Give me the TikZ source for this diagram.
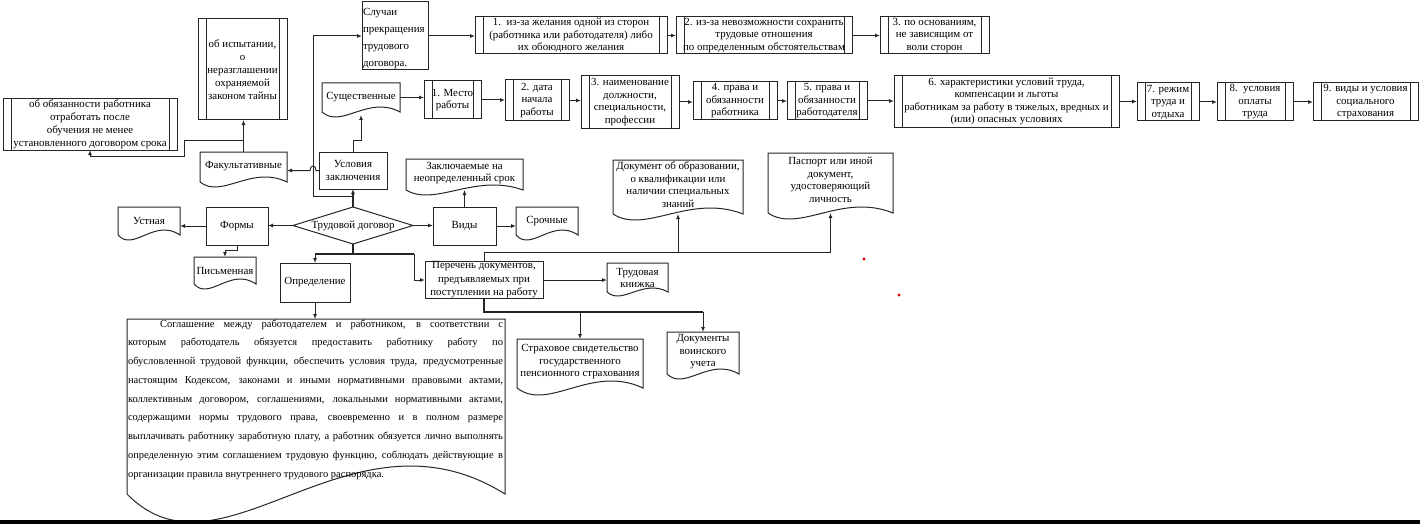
\documentclass[tikz,border=0pt]{standalone}
\usepackage{fontspec}
\setmainfont{Liberation Serif}
\usetikzlibrary{arrows.meta,shapes.geometric}
\newcommand\rbox[7]{\node[#6, minimum width={#4-#2}, minimum height={#5-#3}] (#1) at ({(#2+#4)/2},{(#3+#5)/2}) {#7};}
\newcommand\docn[8]{%
  \node[minimum width={#4-#2}, minimum height={#5-#3}] (#1) at ({(#2+#4)/2},{(#3+#5)/2}) {};
  \draw[shapeline] (#1.north west) -- (#1.north east) -- (#1.south east)
    .. controls ({#2+0.59*(#4-#2)},{#5-3.46*#6}) and ({#2+0.25*(#4-#2)},{#5+3.46*#6}) .. (#1.south west) -- cycle;
  \node (#1-t) at ({(#2+#4)/2},#7) {#8};}
\begin{document}
\begin{tikzpicture}[x=1pt,y=-1pt,
  every node/.style={font=\fontsize{10.9}{12.5}\selectfont, inner sep=0pt, outer sep=0pt, align=center},
  box/.style={draw=black!85, line width=1pt},
  pp/.style={box, path picture={\draw[black!85, line width=1pt]
     ([xshift=8pt]path picture bounding box.north west) -- ([xshift=8pt]path picture bounding box.south west)
     ([xshift=-8pt]path picture bounding box.north east) -- ([xshift=-8pt]path picture bounding box.south east);}},
  shapeline/.style={draw=black!85, line width=1pt},
  ln/.style={draw=black!85, line width=1pt},
  arr/.style={ln, -{Latex[length=5pt,width=4pt]}},
  thk/.style={line width=1.8pt}]
\useasboundingbox (0,0) rectangle (1420,524);

% ---------- upper-left group ----------
\rbox{isp}{198}{19}{287}{120}{pp, font=\fontsize{10.9}{13}\selectfont}{об испытании,\\ о\\ неразглашении\\ охраняемой\\ законом тайны}
\rbox{obyaz}{3}{99}{177}{150}{pp, font=\fontsize{10.9}{13}\selectfont}{об обязанности работника\\ отработать после\\ обучения не менее\\ установленного договором срока}
\docn{fak}{200}{152}{287}{182}{5}{166}{Факультативные}
\rbox{usl}{319}{152}{387}{189}{box}{Условия\\ заключения}
\rbox{sluch}{362}{2}{428}{70}{box, text width=64pt, align=left, font=\fontsize{10.9}{17}\selectfont}{\rule{0pt}{13pt}Случаи\\ прекращения\\ трудового\\ договора.}
\docn{sush}{322}{83}{400}{112}{5}{97}{Существенные}

% ---------- row 1 ----------
\rbox{k1}{475}{17}{667}{54}{pp}{1.\ \ из-за желания одной из сторон\\ (работника или работодателя) либо\\ их обоюдного желания}
\rbox{k2}{676}{17}{852}{54}{pp}{2. из-за невозможности сохранить\\ трудовые отношения\\ по определенным обстоятельствам}
\rbox{k3}{880}{17}{989}{54}{pp}{3. по основаниям,\\ не зависящим от\\ воли сторон}

% ---------- row 2 ----------
\rbox{m1}{424}{81}{481}{119}{pp}{1. Место\\ работы}
\rbox{m2}{505}{80}{569}{121}{pp}{2. дата\\ начала\\ работы}
\rbox{m3}{581}{76}{679}{128}{pp}{3. наименование\\ должности,\\ специальности,\\ профессии}
\rbox{m4}{693}{82}{777}{120}{pp}{4. права и\\ обязанности\\ работника}
\rbox{m5}{787}{82}{867}{120}{pp}{5. права и\\ обязанности\\ работодателя}
\rbox{m6}{894}{76}{1119}{127}{pp}{6. характеристики условий труда,\\ компенсации и льготы\\ работникам за работу в тяжелых, вредных и\\ (или) опасных условиях}
\rbox{m7}{1137}{83}{1199}{121}{pp}{7. режим\\ труда и\\ отдыха}
\rbox{m8}{1217}{83}{1293}{121}{pp}{8.\ \ условия\\ оплаты\\ труда}
\rbox{m9}{1313}{83}{1418}{121}{pp}{9. виды и условия\\ социального\\ страхования}

% ---------- central row ----------
\node[draw=black!85, line width=1pt, diamond, aspect=3.2, minimum width=120, minimum height=37] (dia) at (353,225.5) {Трудовой договор};
\rbox{formy}{206}{207}{268}{245}{box}{Формы}
\docn{ust}{118}{207}{180}{235}{5}{221}{Устная}
\docn{pis}{194}{257}{256}{284}{5}{271}{Письменная}
\rbox{vidy}{433}{207}{496}{245}{box}{Виды}
\docn{sroch}{516}{207}{578}{235}{5}{221}{Срочные}
\docn{zakl}{406}{159}{523}{190}{5}{173}{Заключаемые на\\ неопределенный срок}
\rbox{opr}{280}{263}{350}{302}{box}{Определение}
\rbox{per}{425}{263}{543}{297}{box, font=\fontsize{10.9}{13.5}\selectfont}{Перечень документов,\\ предъявляемых при\\ поступлении на работу}

% ---------- documents ----------
\docn{doc}{613}{160}{743}{214}{6}{184.5}{Документ об образовании,\\ о квалификации или\\ наличии специальных\\ знаний}
\docn{pasp}{768}{153}{893}{213}{6}{180}{Паспорт или иной\\ документ,\\ удостоверяющий\\ личность}
\docn{trud}{607}{263}{668}{292}{4}{278}{Трудовая\\ книжка}
\docn{strah}{517}{339}{643}{388}{7}{362}{Страховое свидетельство\\ государственного\\ пенсионного страхования}
\docn{voin}{667}{332}{739}{374}{5}{352}{Документы\\ воинского\\ учета}

% ---------- definition ----------
\docn{def}{127}{319}{505}{494}{28}{400}{}
\node[anchor=north west, font=\fontsize{10.5}{18.75}\selectfont, align=left] (deftext) at (128,319.5) {\vbox{\baselineskip=18.75pt
\hbox to 375pt{\hskip32pt Соглашение между работодателем и работником, в соответствии с}
\hbox to 375pt{которым работодатель обязуется предоставить работнику работу по}
\hbox to 375pt{обусловленной трудовой функции, обеспечить условия труда, предусмотренные}
\hbox to 375pt{настоящим Кодексом, законами и иными нормативными правовыми актами,}
\hbox to 375pt{коллективным договором, соглашениями, локальными нормативными актами,}
\hbox to 375pt{содержащими нормы трудового права, своевременно и в полном размере}
\hbox to 375pt{выплачивать работнику заработную плату, а работник обязуется лично выполнять}
\hbox to 375pt{определенную этим соглашением трудовую функцию, соблюдать действующие в}
\hbox{организации правила внутреннего трудового распорядка.}}};

% ---------- junction coordinates ----------
\coordinate (uj) at ([yshift=-7pt]usl.south);
\coordinate (sv) at (313,196);
\coordinate (fj) at ([yshift=12pt]fak.north);
\coordinate (dj) at ([yshift=-10pt]dia.south);
\coordinate (pj) at ([yshift=9pt]per.north);
\coordinate (qj) at ([yshift=-14pt]per.south);

% ---------- connectors ----------
\draw[arr, thk] (dia.north) -- (usl.south);
\draw[arr] (uj) -- (sv) |- (sluch.west);
\draw[arr] (usl.north) -- ++(0,-12) -| ([yshift=-3pt]sush.south);
\draw[arr] (usl.west) -- ([xshift=3pt]usl.west -| sv)
   .. controls +(0,-6) and +(0,-6) .. ([xshift=-3pt]usl.west -| sv) -- (usl.west -| fak.east);
\draw[arr] (fak.north) -- (fak.north |- isp.south);
\draw[arr] (fj) -- ++(-59,0) -- ++(0,16) -| (obyaz.south);

\draw[arr] (sluch.east) -- (sluch.east -| k1.west);
\draw[arr] (k1.east) -- (k1.east -| k2.west);
\draw[arr] (k2.east) -- (k2.east -| k3.west);

\draw[arr] (sush.east) -- (sush.east -| m1.west);
\draw[arr] (m1.east) -- (m1.east -| m2.west);
\draw[arr] (m2.east) -- (m2.east -| m3.west);
\draw[arr] (m3.east) -- (m3.east -| m4.west);
\draw[arr] (m4.east) -- (m4.east -| m5.west);
\draw[arr] (m5.east) -- (m5.east -| m6.west);
\draw[arr] (m6.east) -- (m6.east -| m7.west);
\draw[arr] (m7.east) -- (m7.east -| m8.west);
\draw[arr] (m8.east) -- (m8.east -| m9.west);

\draw[arr] (dia.west) -- (dia.west -| formy.east);
\draw[arr] (formy.west) -- (formy.west -| ust.east);
\draw[arr] (formy.south) -- ++(0,5) -| (pis.north);
\draw[arr] (dia.east) -- (dia.east -| vidy.west);
\draw[arr] (vidy.east) -- (vidy.east -| sroch.west);
\draw[arr] (vidy.north) -- (vidy.north |- zakl.south);

\draw[ln, thk] (dia.south) -- (dj) -- (dj -| opr.north);
\draw[ln, thk] (dj) -- ++(61,0);
\draw[arr] (dj -| opr.north) -- (opr.north);
\draw[arr] ([xshift=61pt]dj) |- (per.west);
\draw[arr] (opr.south) -- (opr.south |- def.north);

\draw[arr] (per.north) -- (pj) -| (pasp.south);
\draw[arr] (pj -| doc.south) -- (doc.south);
\draw[arr] (per.east) -- (per.east -| trud.west);
\draw[ln, thk] (per.south) -- (qj) -- (qj -| voin.north);
\draw[arr] (qj -| voin.north) -- (voin.north);
\draw[arr] (qj -| strah.north) -- (strah.north);

% ---------- stray marks ----------
\fill[red!90!black] (864,259) circle[radius=1.7];
\fill[red!90!black] (899,295) circle[radius=1.7];
\fill[black] (0,520) rectangle (1420,524);
\end{tikzpicture}
\end{document}
